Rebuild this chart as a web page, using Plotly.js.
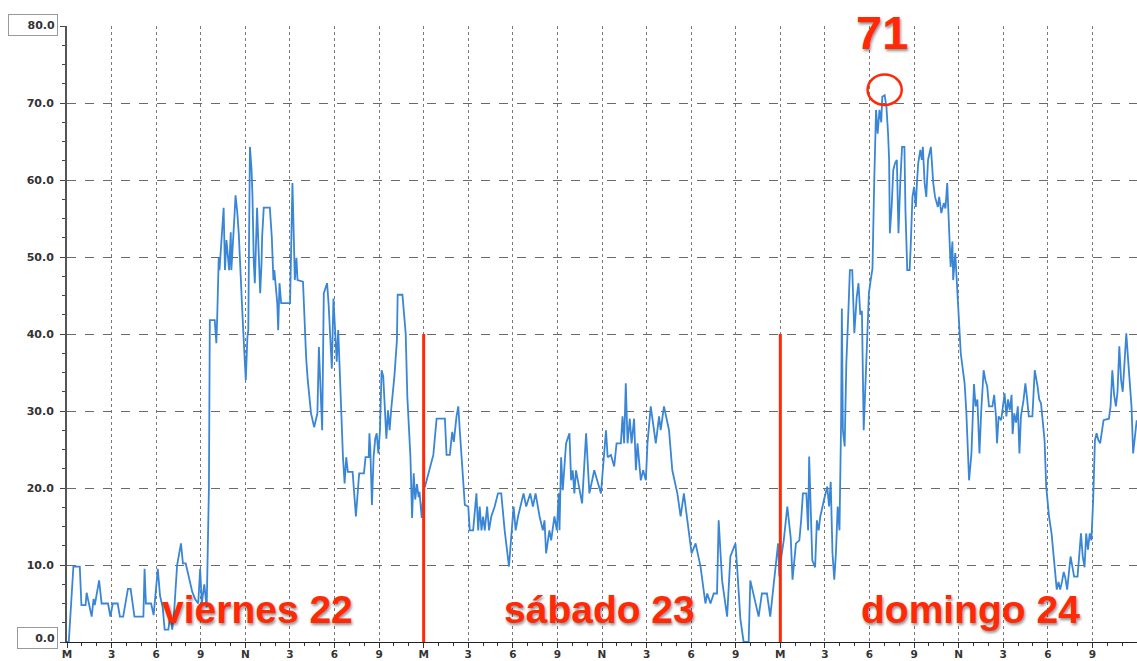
<!DOCTYPE html>
<html>
<head>
<meta charset="utf-8">
<script src="https://cdn.plot.ly/plotly-3.0.1.min.js"></script>
<style>html,body{margin:0;padding:0;background:#fff;}#chart{width:1137px;height:661px;}</style>
</head>
<body>
<div id="chart"></div>
<script>
// Hours since Friday midnight, and values
const friHours = [0,0.12,0.43,0.86,0.97,1.25,1.32,1.66,1.79,1.87,
2.16,2.33,2.76,2.92,3.08,3.41,3.56,3.78,4.10,4.28,
4.54,5.14,5.22,5.31,5.66,5.83,6.11,6.26,6.44,6.57,
6.82,6.95,7.08,7.21,7.41,7.67,7.80,7.99,8.19,8.43,
8.64,8.83,8.96,9.07,9.24,9.40,9.55,9.61,9.94,10.05,
10.11,10.15,10.21,10.26,10.43,10.54,10.63,10.73,10.91,11.02,
11.06,11.23,11.28,11.34,11.45,11.56,11.67,11.77,11.88,11.99,
12.03,12.14,12.20,12.25,12.31,12.42,12.48,12.57,12.64,12.79,
12.90,13.00,13.09,13.13,13.24,13.65,13.78,13.89,13.95,14.04,
14.15,14.21,14.30,14.41,15.01,15.07,15.17,15.25,15.33,15.44,
15.51,15.88,15.98,16.09,16.20,16.42,16.63,16.74,16.85,16.95,
17.06,17.17,17.28,17.50,17.60,17.76,17.82,17.93,18.04,18.15,
18.25,18.36,18.57,18.68,18.79,18.90,19.22,19.44,19.66,19.98,
20.09,20.30,20.35,20.41,20.52,20.63,20.74,20.84,20.95,21.06,
21.17,21.28,21.39,21.49,21.60,21.71,21.81,22.03,22.20,22.25,
22.57,22.68,22.79,22.90,23.11,23.22,23.33,23.43,23.55,23.66,
23.72,23.87,24.00];
const friValues = [0,0,9.8,9.8,4.8,4.8,6.4,3.3,5.6,4.8,
8.0,5.0,5.0,3.3,5.0,5.0,3.3,3.3,6.9,6.9,
3.3,3.3,9.5,5.0,5.0,3.5,9.5,6.0,4.5,1.6,
1.6,3.5,1.6,4.0,10.0,12.8,10.2,10.2,8.5,6.5,
5.5,5.0,9.5,5.0,7.5,4.5,20,41.8,41.8,38.8,
42.4,46.1,49.9,48.3,53.5,56.4,48.3,52.2,48.3,53.2,
48.3,53.2,55.7,58.0,56.0,53.0,47.1,44.0,39.6,36.2,
34.0,39.6,40.5,52.2,64.3,61.3,57.9,49.2,46.6,56.4,
50.5,45.3,49.2,52.6,56.4,56.4,52.6,47.0,48.3,46.6,
44.0,40.5,46.6,44.0,44.0,49.9,59.6,53.5,47.0,49.9,
47.0,46.8,42.0,37.0,34.0,29.7,27.9,29.0,29.7,38.3,
32.0,27.5,45.3,46.6,44.0,38.3,35.5,44.6,39.8,36.4,
40.5,34.0,24.0,20.6,24.0,22.1,22.1,16.3,21.9,21.9,
24.0,24.0,27.1,25.0,17.8,24.0,26.4,27.1,24.5,27.5,
35.3,34.5,30.1,26.4,30.1,27.5,30.1,34.5,39.2,45.1,
45.1,43.0,40.1,31.9,24.0,16.1,21.9,18.5,20.5,18.8,
19.5,16.1,20.0];

const satHours = [24.09,24.42,24.65,24.87,25.43,25.54,25.76,25.92,26.03,26.21,
26.33,26.43,26.77,27.00,27.10,27.33,27.55,27.67,27.77,27.89,
28.00,28.11,28.27,28.40,28.55,28.78,29.00,29.22,29.45,29.74,
29.90,30.05,30.19,30.35,30.72,30.90,31.17,31.35,31.53,31.80,
32.02,32.13,32.24,32.46,32.58,32.80,32.96,33.09,33.14,33.25,
33.36,33.58,33.81,33.92,34.03,34.14,34.25,34.37,34.66,34.93,
35.15,35.48,35.93,36.27,36.38,36.60,36.82,36.98,37.27,37.38,
37.49,37.60,37.72,37.87,37.99,38.16,38.28,38.39,38.61,38.77,
38.95,39.06,39.28,39.62,39.84,39.95,40.17,40.51,40.73,41.07,
41.29,41.51,41.85,42.03,42.30,42.63,42.96,43.08,43.30,43.52,
43.74,43.85,44.08,44.42,44.64,44.98,45.09,45.31,45.53,45.87,
45.98,46.32,46.54,46.76,47.10,47.32,47.65,47.85,47.93];
const satValues = [20.2,22.8,24.3,29.0,29.0,24.3,24.3,27.3,26.0,29.3,
30.6,27.5,17.8,17.6,14.5,14.5,19.3,14.5,17.6,14.5,
16.3,14.5,17.6,14.5,16.3,17.6,19.3,19.3,14.5,9.8,
14.5,17.6,14.5,16.3,19.3,17.6,19.3,17.6,19.3,16.3,
14.5,15.8,11.5,14.5,13.2,16.3,14.5,19.3,14.5,24.0,
19.7,25.8,27.1,21.0,22.3,19.3,22.3,21.0,18.0,27.1,
19.3,22.3,19.3,27.5,24.0,24.3,22.8,25.8,25.8,29.3,
25.8,33.6,25.8,29.0,25.8,29.0,22.3,25.8,21.0,22.3,
21.0,25.8,30.6,25.8,29.3,27.5,30.6,27.5,22.3,19.3,
16.3,19.3,14.5,11.5,12.8,9.8,5.0,6.3,5.0,6.3,
6.3,15.8,8.0,3.3,11.1,12.8,9.8,3.0,0,0,
8.0,5.0,3.3,6.3,6.3,3.3,9.5,12.8,8.5];

const sunHours = [48.00,48.23,48.47,48.70,48.82,49.05,49.28,49.40,49.52,49.75,
49.87,49.94,50.06,50.15,50.34,50.46,50.58,50.69,50.93,51.16,
51.28,51.39,51.51,51.63,51.74,51.86,51.98,52.09,52.14,52.21,
52.33,52.44,52.56,52.68,52.84,52.91,52.98,53.14,53.26,53.38,
53.49,53.61,53.73,53.85,53.96,54.08,54.20,54.32,54.44,54.55,
54.67,54.79,54.86,55.02,55.14,55.25,55.32,55.37,55.49,55.60,
55.72,55.84,55.95,56.07,56.19,56.35,56.42,56.54,56.70,56.77,
56.89,57.00,57.12,57.19,57.28,57.42,57.52,57.59,57.71,57.82,
57.94,58.13,58.29,58.41,58.60,58.69,58.83,59.00,59.11,59.23,
59.35,59.46,59.58,59.63,59.77,59.93,60.05,60.14,60.40,60.51,
60.70,60.86,61.03,61.14,61.26,61.40,61.52,61.68,61.80,61.92,
62.04,62.27,62.39,62.51,62.58,62.69,62.86,62.97,63.09,63.21,
63.32,63.44,63.56,63.63,63.74,63.86,63.98,64.09,64.19,64.37,
64.49,64.61,64.72,64.96,65.12,65.31,65.42,65.54,65.78,65.89,
66.08,66.25,66.48,66.60,66.72,66.83,66.95,67.07,67.18,67.30,
67.53,67.77,68.00,68.23,68.35,68.47,68.58,68.70,68.82,68.93,
69.05,69.17,69.28,69.40,69.52,69.75,70.11,70.22,70.34,70.46,
70.58,70.69,70.81,70.93,71.04,71.16,71.28,71.39,71.51,71.63,
71.74,71.98];
const sunValues = [10.2,13.2,17.6,13.5,8.1,12.8,13.2,15.8,19.3,19.3,
14.5,24.1,14.5,10.6,9.7,15.8,14.5,16.3,18.4,20.2,
17.6,20.8,11.5,8.1,11.5,17.6,14.5,28.8,43.3,27.5,
25.4,36.2,42.0,48.3,48.3,42.0,40.1,44.8,46.6,42.5,
43.0,27.5,33.0,38.3,45.3,47.0,48.5,60.0,69.1,66.0,
69.1,67.5,70.8,71.0,69.5,66.0,62.6,53.1,56.5,61.3,
62.2,62.6,53.1,59.6,64.3,64.3,56.0,48.3,48.3,51.3,
57.8,59.1,56.5,59.6,62.2,63.9,62.6,64.3,59.6,57.8,
62.6,64.3,59.6,57.8,56.5,57.8,55.7,57.0,56.3,59.6,
53.1,48.7,52.0,47.0,50.5,44.5,40.1,37.5,33.6,30.1,
21.0,24.5,33.5,30.6,31.5,24.5,30.1,35.3,34.0,33.2,
30.6,30.6,32.1,29.3,25.8,29.3,28.8,30.6,32.3,29.3,
31.5,30.1,32.1,27.0,29.7,28.5,30.6,24.5,29.3,31.5,
33.6,31.5,29.3,29.3,35.3,33.2,31.5,31.0,26.2,20.2,
16.3,14.1,9.8,6.8,7.8,6.8,7.8,9.1,8.3,6.8,
11.1,8.5,8.5,14.1,11.1,9.7,14.1,12.0,14.1,13.2,
18.4,26.2,27.1,26.2,25.8,28.8,29.0,30.6,35.3,32.1,
30.6,32.5,38.4,34.0,32.5,37.0,40.1,37.0,33.2,30.6,
24.5,28.8];

const xTickVals = [0,3,6,9,12,15,18,21,24,27,30,33,36,39,42,45,48,51,54,57,60,63,66,69,72];
const xTickText = ['M','3','6','9','N','3','6','9','M','3','6','9','N','3','6','9','M','3','6','9','N','3','6','9','M'];
const yTickVals = [0,10,20,30,40,50,60,70,80];
const yTickText = ['','10.0','20.0','30.0','40.0','50.0','60.0','70.0',''];
const dayNames = ['viernes 22','sábado 23','domingo 24'];
const dayLabelHours = [12.8,35.8,60.8];
const dayBoundaries = [24,48];
const peakHour = 55.02, peakValue = 71;

const hours = friHours.concat(satHours, sunHours);
const values = friValues.concat(satValues, sunValues);

const RED = '#ff2a05';
const shadow = '1px 2px 3px rgba(0,0,0,0.45)';
const labelFont = {family:'Liberation Sans, Arial, sans-serif', size:39, weight:'bold', color:RED, shadow:shadow};
const tickFont = {family:'DejaVu Sans, Verdana, sans-serif', size:11, weight:'bold', color:'#333'};

const shapes = dayBoundaries.map(h => ({type:'line', xref:'x', yref:'y', x0:h, x1:h, y0:0, y1:40,
  line:{color:RED, width:3}}));
shapes.push({type:'circle', xref:'x', yref:'y', x0:peakHour-1.15, x1:peakHour+1.15, y0:peakValue-1.25, y1:peakValue+2.7,
  line:{color:RED, width:2.5}});

const annotations = dayNames.map((t,i) => ({text:t, x:dayLabelHours[i], y:4.2, xref:'x', yref:'y',
  showarrow:false, xanchor:'center', yanchor:'middle', font:labelFont}));
annotations.push({text:String(peakValue), x:peakHour-0.2, y:79.1, xref:'x', yref:'y', showarrow:false,
  xanchor:'center', yanchor:'middle', font:Object.assign({}, labelFont, {size:47})});
annotations.push({text:'80.0', xref:'paper', yref:'y', x:0, y:80, xshift:-9, yshift:1, xanchor:'right', yanchor:'middle',
  showarrow:false, align:'right', width:44, height:16, borderpad:2, borderwidth:1, bordercolor:'#9a9a9a', bgcolor:'#fff', font:tickFont});
annotations.push({text:'0.0', xref:'paper', yref:'y', x:0, y:0, xshift:-9, yshift:4, xanchor:'right', yanchor:'middle',
  showarrow:false, align:'right', width:35, height:16, borderpad:2, borderwidth:1, bordercolor:'#9a9a9a', bgcolor:'#fff', font:tickFont});

const trace = {x:hours, y:values, type:'scatter', mode:'lines',
  line:{color:'#3a86d6', width:1.8}, hoverinfo:'skip'};

const layout = {
  width:1137, height:661,
  margin:{l:67, r:0, t:26, b:19, pad:0},
  paper_bgcolor:'#fff', plot_bgcolor:'#fff',
  showlegend:false,
  xaxis:{range:[0,72], tickmode:'array', tickvals:xTickVals, ticktext:xTickText,
    ticks:'outside', ticklen:5, tickwidth:1, tickcolor:'#333', ticklabelstandoff:-3,
    showgrid:true, gridcolor:'#7a7a7a', griddash:'dot', gridwidth:1,
    showline:true, linecolor:'#222', linewidth:1, zeroline:false,
    minor:{tick0:0, dtick:1, ticks:'outside', ticklen:3, tickcolor:'#333', showgrid:false},
    tickfont:Object.assign({}, tickFont, {size:10.5}), automargin:false, fixedrange:true},
  yaxis:{range:[0,80], tickmode:'array', tickvals:yTickVals, ticktext:yTickText,
    ticks:'outside', ticklen:5, tickwidth:1, tickcolor:'#444', ticklabelstandoff:4,
    showgrid:true, gridcolor:'#6a6a6a', griddash:'dash', gridwidth:1,
    showline:true, linecolor:'#555', linewidth:2, zeroline:false,
    minor:{tick0:0, dtick:2.5, ticks:'outside', ticklen:3, tickcolor:'#444', showgrid:false},
    tickfont:tickFont, automargin:false, fixedrange:true},
  shapes:shapes,
  annotations:annotations
};

Plotly.newPlot('chart', [trace], layout, {displayModeBar:false, staticPlot:true});
</script>
</body>
</html>
